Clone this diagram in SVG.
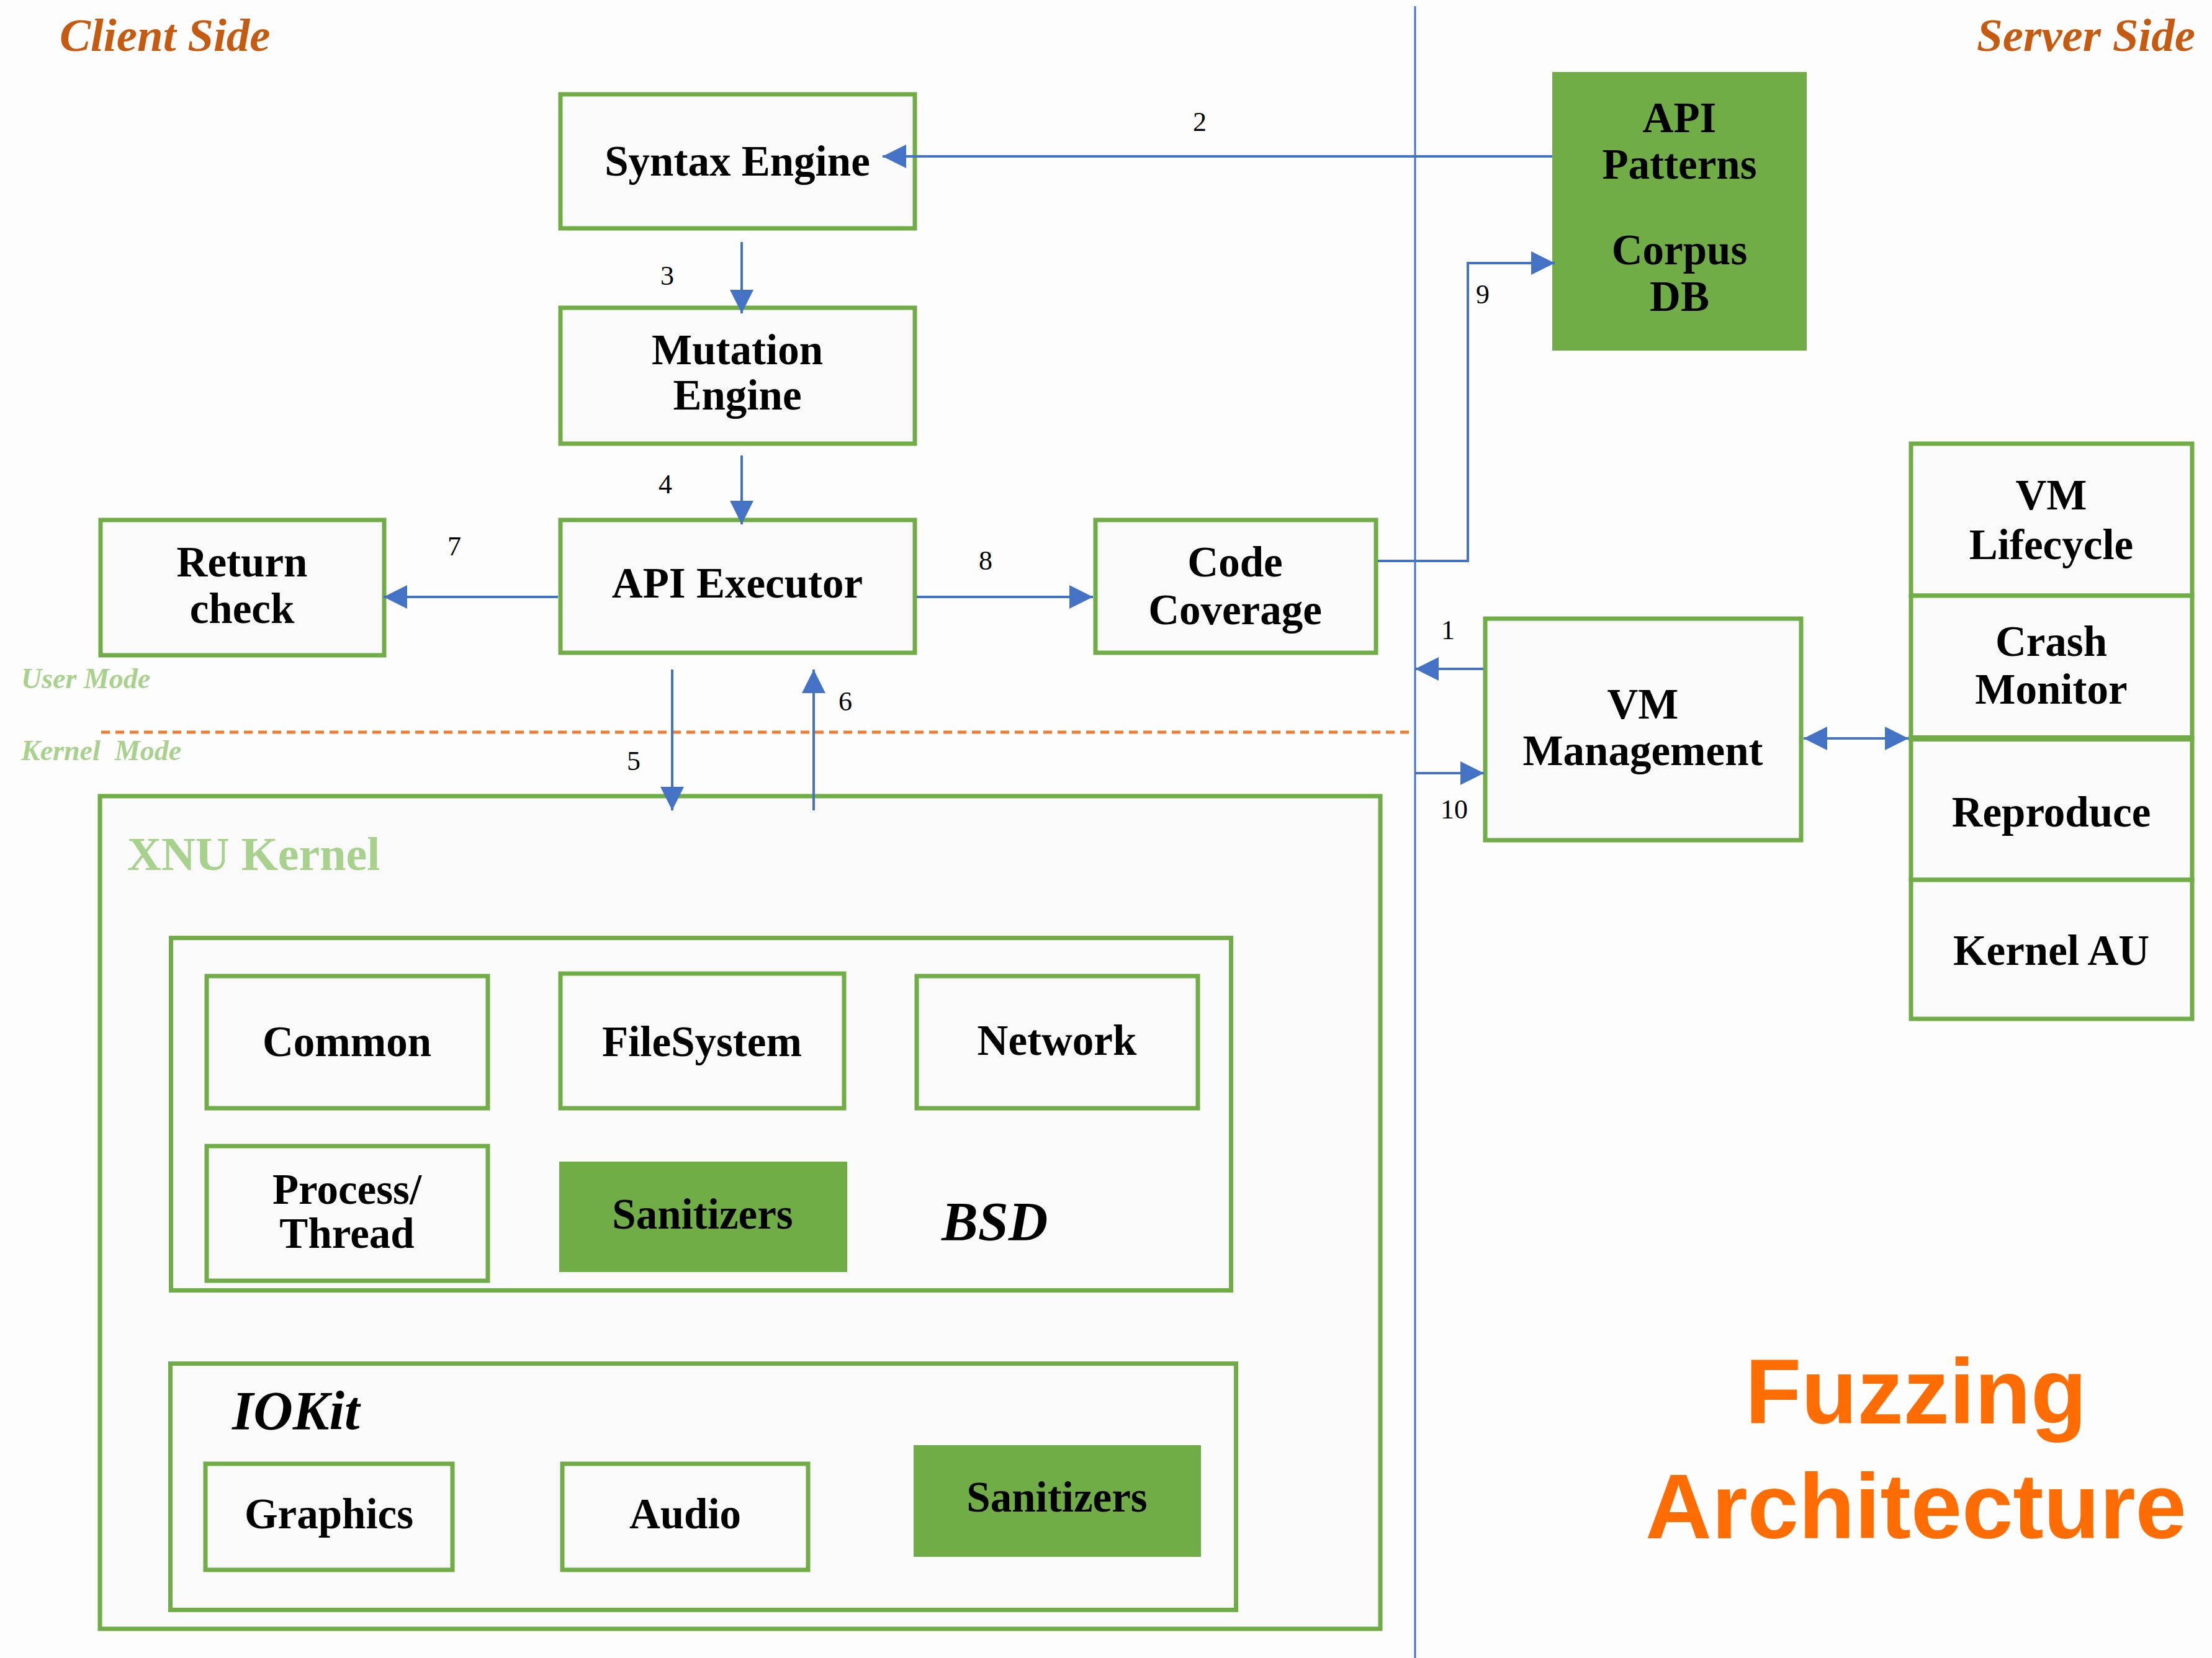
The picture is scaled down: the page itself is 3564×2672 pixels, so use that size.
<svg xmlns="http://www.w3.org/2000/svg" width="3564" height="2672" viewBox="0 0 3564 2672">
<style>
.box{fill:#fafafa;stroke:#70ad47;stroke-width:7}
.fill{fill:#70ad47;stroke:none}
.lbl{font-family:"Liberation Serif","Times New Roman",serif;font-weight:bold;font-size:69px;fill:#000;text-anchor:middle}
.num{font-family:"Liberation Serif","Times New Roman",serif;font-size:44px;fill:#000;text-anchor:middle}
.conn{fill:none;stroke:#4472c4;stroke-width:4}
.side{font-family:"Liberation Serif","Times New Roman",serif;font-weight:bold;font-style:italic;font-size:75px;fill:#c55a11}
.mode{font-family:"Liberation Serif","Times New Roman",serif;font-weight:bold;font-style:italic;font-size:46px;fill:#a9d18e}
.grp{font-family:"Liberation Serif","Times New Roman",serif;font-weight:bold;font-style:italic;font-size:88px;fill:#000}
.title{font-family:"Liberation Sans",Arial,sans-serif;font-weight:bold;font-size:148px;fill:#ff6c02;text-anchor:middle}
</style>
<defs>
<marker id="ah" viewBox="0 0 38 38" refX="38" refY="19" markerWidth="38" markerHeight="38" markerUnits="userSpaceOnUse" orient="auto-start-reverse">
<path d="M0,0 L38,19 L0,38 z" fill="#4472c4"/>
</marker>
</defs>
<rect x="0" y="0" width="3564" height="2672" fill="#fdfdfd"/>

<text class="side" x="96" y="82">Client Side</text>
<text class="side" x="3537" y="82" text-anchor="end">Server Side</text>
<text class="mode" x="34" y="1109">User Mode</text>
<text class="mode" x="34" y="1225" xml:space="preserve">Kernel  Mode</text>

<g id="xnu-kernel">
<rect class="box" x="161" y="1283" width="2063" height="1342" stroke-width="6"/>
<text x="205" y="1402" font-family="Liberation Serif, Times New Roman, serif" font-weight="bold" font-size="76" fill="#a9d18e">XNU Kernel</text>
</g>
<g id="bsd">
<rect class="box" x="275.5" y="1511.5" width="1708" height="568"/>
<text class="grp" x="1517" y="1998">BSD</text>
</g>
<g id="iokit">
<rect class="box" x="274.5" y="2197.5" width="1717" height="397"/>
<text class="grp" x="374" y="2303">IOKit</text>
</g>

<g id="syntax-engine"><rect class="box" x="903" y="152" width="571" height="216"/><text class="lbl" x="1188" y="283">Syntax Engine</text></g>
<g id="mutation-engine"><rect class="box" x="903" y="496" width="571" height="219"/><text class="lbl" x="1188" y="587">Mutation</text><text class="lbl" x="1188" y="660">Engine</text></g>
<g id="api-executor"><rect class="box" x="903" y="838" width="571" height="214"/><text class="lbl" x="1188" y="963">API Executor</text></g>
<g id="return-check"><rect class="box" x="162" y="838" width="457" height="218"/><text class="lbl" x="390" y="929">Return</text><text class="lbl" x="390" y="1004">check</text></g>
<g id="code-coverage"><rect class="box" x="1765" y="838" width="452" height="214"/><text class="lbl" x="1990" y="929">Code</text><text class="lbl" x="1990" y="1006">Coverage</text></g>
<g id="api-patterns"><rect class="fill" x="2501" y="116" width="410" height="449"/><text class="lbl" x="2706" y="213">API</text><text class="lbl" x="2706" y="288">Patterns</text><text class="lbl" x="2706" y="426">Corpus</text><text class="lbl" x="2706" y="501">DB</text></g>
<g id="vm-management"><rect class="box" x="2393" y="997" width="509" height="357"/><text class="lbl" x="2647" y="1158">VM</text><text class="lbl" x="2647" y="1233">Management</text></g>
<g id="vm-lifecycle"><rect class="box" x="3079" y="715" width="453" height="245"/><text class="lbl" x="3305" y="821">VM</text><text class="lbl" x="3305" y="901">Lifecycle</text></g>
<g id="crash-monitor"><rect class="box" x="3079" y="960" width="453" height="230"/><text class="lbl" x="3305" y="1057">Crash</text><text class="lbl" x="3305" y="1134">Monitor</text></g>
<g id="reproduce"><rect class="box" x="3079" y="1190" width="453" height="228"/><text class="lbl" x="3305" y="1332">Reproduce</text></g>
<g id="kernel-au"><rect class="box" x="3079" y="1418" width="453" height="224"/><text class="lbl" x="3305" y="1555">Kernel AU</text></g>
<line x1="3075" y1="1190" x2="3535" y2="1190" stroke="#70ad47" stroke-width="10"/>

<g id="common"><rect class="box" x="333" y="1573" width="453" height="213"/><text class="lbl" x="559" y="1702">Common</text></g>
<g id="filesystem"><rect class="box" x="903" y="1569" width="457" height="217"/><text class="lbl" x="1131" y="1702">FileSystem</text></g>
<g id="network"><rect class="box" x="1477" y="1573" width="453" height="213"/><text class="lbl" x="1703" y="1700">Network</text></g>
<g id="process-thread"><rect class="box" x="333" y="1847" width="453" height="217"/><text class="lbl" x="559" y="1940" font-size="62">Process/</text><text class="lbl" x="559" y="2011" font-size="62">Thread</text></g>
<g id="sanitizers-bsd"><rect class="fill" x="901" y="1872" width="464" height="178"/><text class="lbl" x="1132" y="1980">Sanitizers</text></g>
<g id="graphics"><rect class="box" x="331" y="2359" width="398" height="171"/><text class="lbl" x="530" y="2463">Graphics</text></g>
<g id="audio"><rect class="box" x="906" y="2359" width="396" height="171"/><text class="lbl" x="1104" y="2463">Audio</text></g>
<g id="sanitizers-iokit"><rect class="fill" x="1472" y="2329" width="463" height="180"/><text class="lbl" x="1703" y="2436">Sanitizers</text></g>

<g id="connectors">
<line x1="2280" y1="10" x2="2280" y2="2672" stroke="#4472c4" stroke-width="3"/>
<line x1="163" y1="1180" x2="2279" y2="1180" stroke="#ed7d31" stroke-width="5" stroke-dasharray="14 9"/>
<path class="conn" d="M2501,252 L1422,252" marker-end="url(#ah)"/>
<path class="conn" d="M1195,390 L1195,505" marker-end="url(#ah)" stroke-width="3"/>
<path class="conn" d="M1195,734 L1195,845" marker-end="url(#ah)" stroke-width="3"/>
<path class="conn" d="M899,962 L618,962" marker-end="url(#ah)"/>
<path class="conn" d="M1477,962 L1761,962" marker-end="url(#ah)"/>
<path class="conn" d="M1083,1079 L1083,1306" marker-end="url(#ah)" stroke-width="3"/>
<path class="conn" d="M1311,1306 L1311,1079" marker-end="url(#ah)" stroke-width="3"/>
<path class="conn" d="M2220,904 L2365,904 L2365,424 L2505,424" marker-end="url(#ah)" stroke-width="3"/>
<path class="conn" d="M2390,1078 L2280,1078" marker-end="url(#ah)"/>
<path class="conn" d="M2280,1246 L2391,1246" marker-end="url(#ah)"/>
<path class="conn" d="M2906,1190 L3075,1190" marker-start="url(#ah)" marker-end="url(#ah)"/>
<text class="num" x="1933" y="211">2</text>
<text class="num" x="1075" y="459">3</text>
<text class="num" x="1072" y="795">4</text>
<text class="num" x="732" y="895">7</text>
<text class="num" x="1588" y="918">8</text>
<text class="num" x="1021" y="1241">5</text>
<text class="num" x="1362" y="1145">6</text>
<text class="num" x="2389" y="489">9</text>
<text class="num" x="2333" y="1030">1</text>
<text class="num" x="2343" y="1319">10</text>
</g>

<text class="title" x="3087" y="2294">Fuzzing</text>
<text class="title" x="3087" y="2479">Architecture</text>
</svg>
